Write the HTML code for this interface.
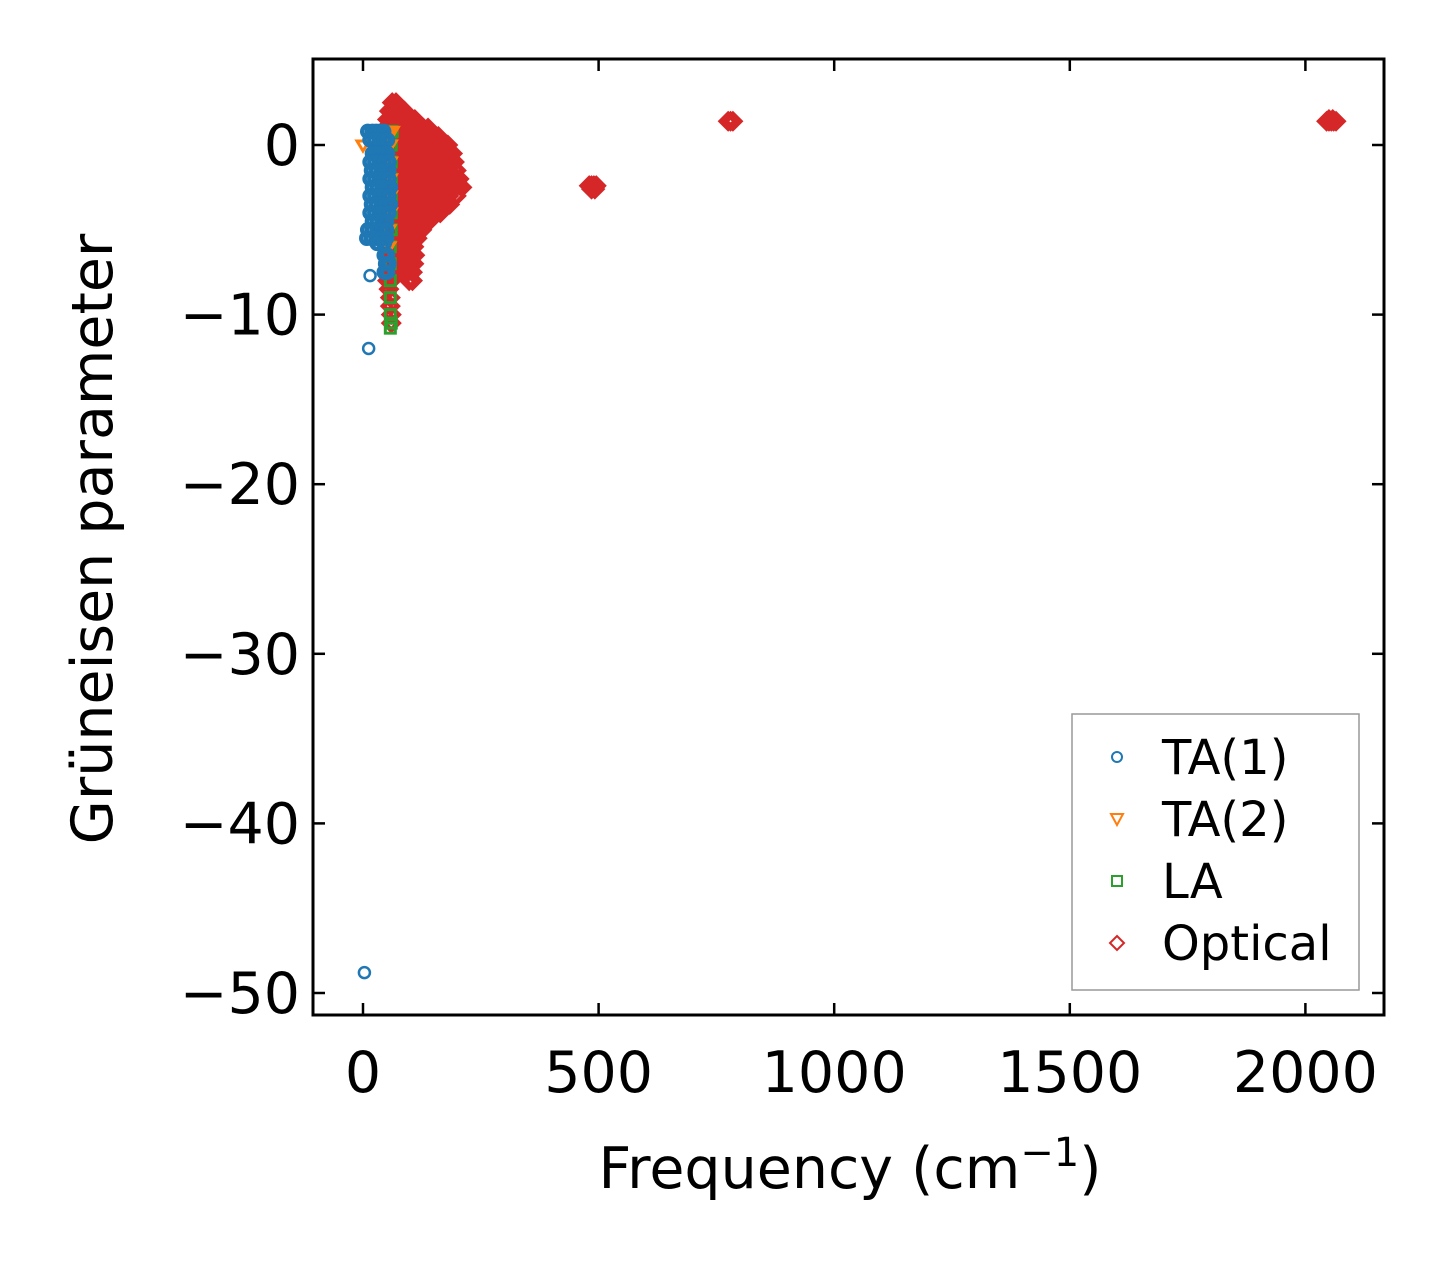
<!DOCTYPE html>
<html><head><meta charset="utf-8"><style>
body{margin:0;background:#fff}
svg text{font-family:"DejaVu Sans","Liberation Sans",sans-serif;fill:#000}
</style></head><body>
<svg id="c" width="1443" height="1264" xmlns="http://www.w3.org/2000/svg">
<rect x="0" y="0" width="1443" height="1264" fill="#fff"/>
<defs><clipPath id="clip"><rect x="313" y="59" width="1071" height="956"/></clipPath></defs>
<g id="marks" clip-path="url(#clip)"></g>
<rect x="313" y="59" width="1071" height="956" fill="none" stroke="#000" stroke-width="3"/>
<g id="axes"></g>
<text x="850" y="1188" font-size="57" text-anchor="middle">Frequency (cm<tspan dy="-22" font-size="40">−1</tspan><tspan dy="22">)</tspan></text>
<text transform="translate(112,539) rotate(-90)" font-size="57" text-anchor="middle">Grüneisen parameter</text>
<g>
<rect x="1072" y="714" width="287" height="276" fill="#fff" stroke="#999" stroke-width="1.5"/>
<circle cx="1117" cy="757" r="5" fill="none" stroke="#1f77b4" stroke-width="2"/>
<text x="1162" y="774" font-size="48">TA(1)</text>
<path d="M1111,814 L1123,814 L1117,825 Z" fill="none" stroke="#ff7f0e" stroke-width="2"/>
<text x="1162" y="836" font-size="48">TA(2)</text>
<rect x="1112" y="876" width="10" height="10" fill="none" stroke="#2ca02c" stroke-width="2"/>
<text x="1162" y="898" font-size="48">LA</text>
<path d="M1117,936 L1124,943 L1117,950 L1110,943 Z" fill="none" stroke="#d62728" stroke-width="2"/>
<text x="1162" y="960" font-size="48">Optical</text>
</g>
</svg>
<script>
const xTicks=[0,500,1000,1500,2000];
const yTicks=[0,-10,-20,-30,-40,-50];
const xTickLabels=["0","500","1000","1500","2000"];
const yTickLabels=["0","−10","−20","−30","−40","−50"];
// optical rows: [gamma, freqs...]
const opticalRows=[
[2.5,62,70],[2,56,66,76,88],[1.5,52,62,72,82,92,102,110],[1,48,58,68,78,88,98,108,118,128,138],
[0.5,48,58,68,78,88,98,108,118,128,138,148,160],[0,48,58,68,78,88,98,108,118,128,138,148,158,170,180],
[-0.5,48,58,68,78,88,98,108,118,128,138,148,158,170,182,190],[-1,48,58,68,78,88,98,108,118,128,138,148,158,170,182,194],
[-1.5,48,58,68,78,88,98,108,118,128,138,148,158,170,182,198],[-2,48,58,68,78,88,98,108,118,128,138,148,158,170,182,194,204],
[-2.5,48,58,68,78,88,98,108,118,128,138,148,158,170,182,196,210],[-3,48,58,68,78,88,98,108,118,128,138,148,158,170,182,198],
[-3.5,50,60,70,80,90,100,110,120,130,140,150,160,172,184],[-4,50,60,70,80,90,100,110,120,130,140,150,164],
[-4.5,52,62,72,82,92,102,112,122,132,140],[-5,55,65,75,85,95,105,115,125],[-5.5,55,65,75,85,95,105,115],
[-6,58,68,78,88,98,108],[-6.5,60,70,80,90,100,110],[-7,60,70,80,90,100,108],[-7.5,62,72,82,95,105],
[-8,52,60,98,105],[-8.5,55],[-9,58],[-9.5,58],[-10,60],[-10.5,60],
[-2.4,480,485,490,495],[-2.6,485,492],[1.4,775,780,785],[1.4,2045,2050,2055,2060,2065],[1.5,2050,2058]
];
const laRows=[[0.8,58,62],[0,60],[-1,60],[-2,60],[-3,60],[-4,60],[-5,60],[-6,58],[-7,58],[-8,58],[-9,58],[-10,58],[-10.5,60],[-10.8,58]];
const ta2Rows=[[0.8,48,55,62],[0,0,50,58],[-1,52,58],[-2,52,58],[-3,50,58],[-4,52,58],[-5,55],[-6,55]];
const ta1Rows=[
[0.8,10,20,28,36,44],[0.3,15,25,35,45,52],[-0.5,20,28,36,44,52],[-1,15,25,35,45,55],[-1.5,18,28,38,48,55],
[-2,15,25,35,45,55],[-2.5,20,30,40,50,58],[-3,15,25,35,45,55],[-3.5,18,28,38,48,58],[-4,15,25,35,45,55],
[-4.5,20,30,40,50],[-5,10,20,30,40,50],[-5.5,8,18,28,40,50],[-5.8,30,45],[-6.5,45,52],[-7,48,55],[-7.5,45,52],
[-7.7,15],[-12,12],[-48.8,3]
];
const X=v=>363+v*0.4712, Y=v=>145-v*16.96;
const NS="http://www.w3.org/2000/svg";
const g=document.getElementById('marks');
function mk(tag,attrs){const e=document.createElementNS(NS,tag);for(const k in attrs)e.setAttribute(k,attrs[k]);return e;}
opticalRows.forEach(r=>{for(let i=1;i<r.length;i++){const x=X(r[i]),y=Y(r[0]);
const e=mk('path',{d:`M${x},${y-7}L${x+7},${y}L${x},${y+7}L${x-7},${y}Z`,fill:'none',stroke:'#d62728','stroke-width':5});


g.appendChild(e);}});
laRows.forEach(r=>{for(let i=1;i<r.length;i++){const x=X(r[i]),y=Y(r[0]);
const e=mk('rect',{x:x-5,y:y-5,width:10,height:10,fill:'none',stroke:'#2ca02c','stroke-width':3});


g.appendChild(e);}});
ta2Rows.forEach(r=>{for(let i=1;i<r.length;i++){const x=X(r[i]),y=Y(r[0]);
const e=mk('path',{d:`M${x-6},${y-4}L${x+6},${y-4}L${x},${y+6}Z`,fill:'none',stroke:'#ff7f0e','stroke-width':3});


g.appendChild(e);}});
ta1Rows.forEach(r=>{for(let i=1;i<r.length;i++){const x=X(r[i]),y=Y(r[0]);
const e=mk('circle',{cx:x,cy:y,r:5.5,fill:'none',stroke:'#1f77b4','stroke-width':r[0]<-7.6?2.5:4.5});


g.appendChild(e);}});
const ax=document.getElementById('axes');
xTicks.forEach((t,i)=>{const x=X(t);
ax.appendChild(mk('line',{x1:x,y1:1015,x2:x,y2:1003,stroke:'#000','stroke-width':2.5}));
ax.appendChild(mk('line',{x1:x,y1:59,x2:x,y2:71,stroke:'#000','stroke-width':2.5}));
const tx=mk('text',{x:x,y:1092,'font-size':57,'text-anchor':'middle'});tx.textContent=xTickLabels[i];


ax.appendChild(tx);});
yTicks.forEach((t,i)=>{const y=Y(t);
ax.appendChild(mk('line',{x1:313,y1:y,x2:325,y2:y,stroke:'#000','stroke-width':2.5}));
ax.appendChild(mk('line',{x1:1384,y1:y,x2:1372,y2:y,stroke:'#000','stroke-width':2.5}));
const tx=mk('text',{x:300,y:y+20,'font-size':57,'text-anchor':'end'});tx.textContent=yTickLabels[i];


ax.appendChild(tx);});
</script>
</body></html>
